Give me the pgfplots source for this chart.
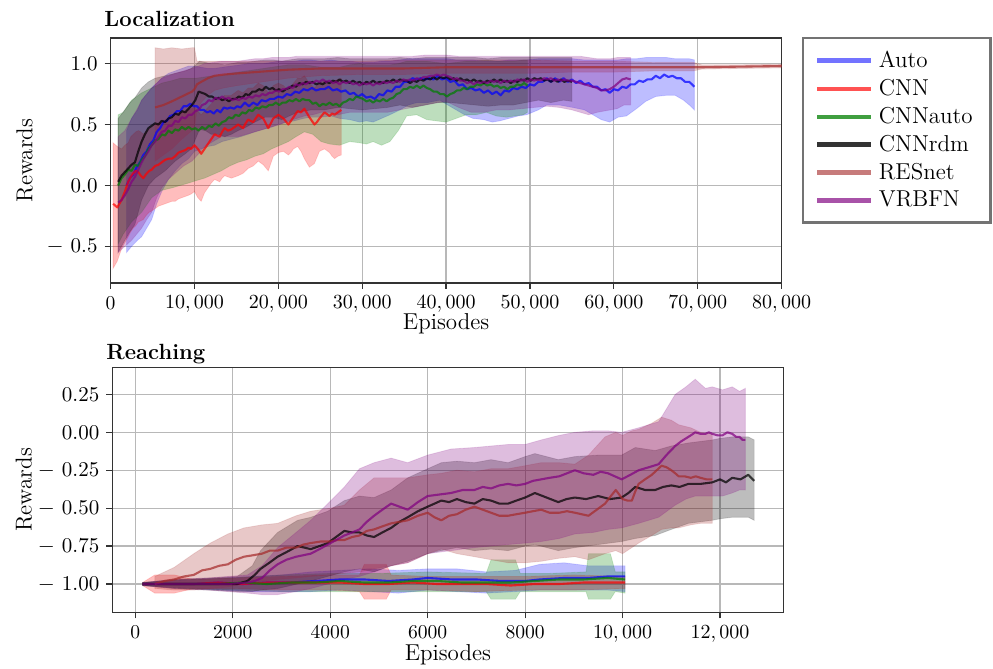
\documentclass[border=0pt]{standalone}
\usepackage{pgfplots}
\usepackage{pgfplotstable}
\pgfplotsset{compat=1.18}
\usepgfplotslibrary{fillbetween}

\definecolor{cAuto}{rgb}{0,0,1}
\definecolor{cCNN}{rgb}{1,0,0}
\definecolor{cCNNauto}{rgb}{0,0.5,0}
\definecolor{cCNNrdm}{rgb}{0,0,0}
\definecolor{cRES}{rgb}{0.647,0.165,0.165}
\definecolor{cVRB}{rgb}{0.5,0,0.5}

% ================= Localization: bands (x lo hi) =================
\pgfplotstableread{
x lo hi
1900 -0.55 0.45
2500 -0.50 0.55
3200 -0.45 0.62
3700 -0.42 0.70
4300 -0.35 0.75
4900 -0.28 0.80
5500 -0.15 0.84
6100 -0.05 0.88
6900 0.05 0.92
7700 0.12 0.94
8500 0.18 0.96
9300 0.22 0.98
10000 0.28 0.98
10800 0.30 0.97
11600 0.32 0.96
12400 0.33 0.96
13300 0.36 0.97
14400 0.38 0.98
15500 0.40 0.99
16400 0.42 1.00
17200 0.44 1.00
18200 0.46 1.00
19200 0.48 1.01
20000 0.50 1.02
21000 0.52 1.02
21900 0.53 1.02
23000 0.55 1.03
23900 0.56 1.03
25000 0.56 1.02
26300 0.57 1.03
27300 0.55 1.02
28500 0.54 1.02
29700 0.52 1.01
30500 0.53 1.01
31300 0.52 1.01
32300 0.55 1.02
33300 0.58 1.02
34500 0.62 1.03
35500 0.66 1.04
36500 0.68 1.04
37800 0.68 1.04
39250 0.70 1.04
40200 0.66 1.04
41200 0.62 1.03
42200 0.58 1.03
43200 0.55 1.03
44500 0.54 1.02
45500 0.52 1.02
46400 0.53 1.02
47500 0.55 1.03
48600 0.57 1.03
49600 0.58 1.03
51000 0.62 1.04
52000 0.66 1.04
53500 0.66 1.04
55100 0.64 1.04
56500 0.62 1.03
57500 0.58 1.03
58500 0.54 1.03
59500 0.52 1.03
60500 0.56 1.03
61500 0.57 1.04
62700 0.63 1.04
63800 0.69 1.05
65000 0.73 1.05
66300 0.74 1.05
67300 0.74 1.04
68300 0.70 1.04
69000 0.66 1.04
69600 0.62 1.03
}\LAutoB

\pgfplotstableread{
x m lo hi
300 -0.15 -0.68 0.35
800 -0.18 -0.62 0.32
1300 -0.12 -0.52 0.30
1700 -0.05 -0.47 0.33
2100 0.03 -0.42 0.35
2400 0.07 -0.38 0.40
2700 0.10 -0.35 0.42
3000 0.12 -0.33 0.44
3300 0.11 -0.30 0.45
3600 0.08 -0.29 0.44
3900 0.06 -0.28 0.42
4200 0.09 -0.25 0.44
4600 0.12 -0.22 0.46
4900 0.13 -0.21 0.48
5300 0.16 -0.19 0.50
5700 0.17 -0.17 0.51
6100 0.19 -0.16 0.52
6500 0.21 -0.15 0.54
6900 0.22 -0.14 0.55
7300 0.22 -0.13 0.56
7700 0.24 -0.13 0.57
8100 0.27 -0.11 0.59
8500 0.28 -0.10 0.60
8900 0.29 -0.09 0.61
9300 0.31 -0.08 0.62
9600 0.30 -0.07 0.63
10000 0.33 -0.05 0.64
10400 0.30 -0.10 0.61
10800 0.26 -0.13 0.58
11200 0.30 -0.06 0.61
11600 0.34 -0.02 0.64
12000 0.38 0.02 0.67
12400 0.42 0.05 0.70
13000 0.40 0.03 0.70
13300 0.44 0.06 0.72
13600 0.47 0.08 0.74
14000 0.45 0.07 0.74
14400 0.46 0.06 0.74
14800 0.48 0.07 0.76
15200 0.50 0.08 0.78
15800 0.47 0.10 0.76
16100 0.51 0.12 0.78
16400 0.54 0.14 0.80
17000 0.52 0.16 0.80
17300 0.55 0.18 0.82
17600 0.58 0.20 0.84
18200 0.55 0.17 0.82
18800 0.47 0.12 0.76
19100 0.51 0.18 0.79
19400 0.55 0.24 0.82
20000 0.58 0.27 0.84
20600 0.55 0.28 0.82
21200 0.50 0.25 0.78
21500 0.53 0.27 0.81
21800 0.56 0.30 0.84
22300 0.61 0.32 0.88
22700 0.60 0.28 0.88
23100 0.63 0.22 0.90
23700 0.56 0.15 0.84
24300 0.50 0.18 0.80
24600 0.52 0.23 0.82
24900 0.55 0.28 0.84
25500 0.60 0.30 0.86
26100 0.57 0.27 0.84
26400 0.59 0.24 0.85
26700 0.58 0.22 0.86
27100 0.60 0.24 0.87
27500 0.62 0.25 0.88
}\LCNN

\pgfplotstableread{
x lo hi
900 -0.48 0.58
1500 -0.40 0.60
2500 -0.30 0.70
3700 -0.22 0.76
4900 -0.10 0.80
6100 -0.04 0.84
7300 -0.02 0.86
8300 0.00 0.88
9300 0.02 0.88
10200 0.04 0.88
11200 0.06 0.89
12200 0.09 0.90
13200 0.12 0.90
14200 0.16 0.92
15200 0.19 0.93
16200 0.21 0.94
17200 0.24 0.95
18200 0.26 0.96
19200 0.30 0.97
20200 0.33 0.98
21200 0.36 0.99
22100 0.40 0.99
23100 0.44 0.99
24100 0.42 0.98
25100 0.36 0.97
26100 0.34 0.97
27300 0.33 0.97
28500 0.36 0.99
29700 0.35 1.00
30500 0.34 0.99
31300 0.36 0.99
32300 0.33 0.99
33300 0.36 0.99
34300 0.45 1.00
35300 0.57 1.02
36500 0.58 1.02
37700 0.54 1.02
38800 0.53 1.01
40000 0.52 1.00
41200 0.55 1.01
42400 0.58 1.02
43600 0.58 1.02
44800 0.60 1.03
46000 0.57 1.02
47200 0.56 1.02
48200 0.57 1.02
49200 0.58 1.03
49700 0.60 1.03
}\LCNNautoB

\pgfplotstableread{
x lo hi
900 -0.55 0.55
1700 -0.45 0.62
2300 -0.38 0.68
2900 -0.32 0.72
3300 -0.22 0.76
3700 -0.12 0.80
4500 0.00 0.85
5300 0.06 0.88
6500 0.12 0.90
7700 0.20 0.92
8900 0.26 0.94
9600 0.30 0.96
10000 0.36 0.98
10600 0.46 1.02
11300 0.45 1.01
12000 0.42 1.00
12800 0.42 1.00
13600 0.40 0.99
14400 0.42 1.00
15200 0.45 1.01
16200 0.48 1.01
17200 0.52 1.02
18400 0.56 1.03
19400 0.56 1.03
20400 0.54 1.02
21300 0.57 1.03
22300 0.60 1.04
23900 0.62 1.04
25500 0.62 1.04
27100 0.64 1.05
28500 0.63 1.04
30000 0.62 1.04
31500 0.63 1.04
33000 0.64 1.04
34500 0.66 1.05
36000 0.64 1.04
37500 0.66 1.05
39000 0.68 1.05
40500 0.68 1.05
42000 0.67 1.05
43500 0.66 1.05
45000 0.65 1.04
46500 0.66 1.05
48000 0.66 1.05
49500 0.68 1.05
51000 0.70 1.05
52500 0.68 1.05
54000 0.70 1.05
55000 0.69 1.05
}\LCNNrdmB

\pgfplotstableread{
x m lo hi
5300 0.64 0.20 1.13
6300 0.66 0.25 1.12
7300 0.69 0.30 1.13
8500 0.73 0.38 1.12
9700 0.77 0.45 1.13
10000 0.79 0.48 1.13
10300 0.83 0.62 1.02
10800 0.85 0.68 1.02
11600 0.88 0.74 1.02
12400 0.90 0.78 1.02
13500 0.91 0.80 1.02
15200 0.92 0.82 1.02
17200 0.93 0.84 1.02
19200 0.94 0.86 1.02
21200 0.95 0.88 1.02
25000 0.96 0.90 1.02
30000 0.96 0.91 1.02
35000 0.96 0.91 1.03
40000 0.97 0.92 1.03
45000 0.97 0.92 1.03
50000 0.97 0.92 1.03
55000 0.97 0.93 1.02
60000 0.97 0.93 1.02
65000 0.97 0.94 1.01
69500 0.97 0.94 1.01
70500 0.97 0.955 0.99
75000 0.975 0.96 0.99
80000 0.98 0.965 0.995
}\LRES

\pgfplotstableread{
x lo hi
900 -0.55 0.40
1700 -0.50 0.45
2500 -0.45 0.55
3100 -0.40 0.62
3700 -0.35 0.70
4300 -0.28 0.75
4900 -0.22 0.80
5500 -0.10 0.84
6100 -0.02 0.88
6900 0.05 0.90
7700 0.10 0.92
8700 0.16 0.94
9700 0.20 0.96
10500 0.26 0.98
11200 0.32 1.00
12200 0.36 1.01
13200 0.40 1.02
14200 0.40 1.02
15200 0.40 1.02
16200 0.42 1.03
17200 0.44 1.04
18200 0.46 1.04
19200 0.48 1.05
20200 0.50 1.05
21200 0.53 1.05
22200 0.55 1.06
23100 0.57 1.06
24100 0.58 1.06
25100 0.60 1.06
26100 0.60 1.06
27100 0.58 1.06
28500 0.60 1.06
30000 0.60 1.06
31500 0.60 1.06
33000 0.60 1.06
34500 0.62 1.06
36000 0.64 1.06
37500 0.66 1.07
39000 0.68 1.07
40000 0.69 1.07
41500 0.64 1.06
43000 0.60 1.06
44500 0.60 1.06
46000 0.62 1.06
47500 0.62 1.06
49000 0.63 1.06
50500 0.64 1.06
52000 0.65 1.06
53500 0.64 1.06
55000 0.62 1.06
56000 0.60 1.06
57000 0.58 1.05
58000 0.60 1.04
58800 0.61 1.04
59600 0.62 1.04
60400 0.63 1.05
61200 0.66 1.05
62000 0.66 1.05
}\LVRBB

% ================= Localization: mean lines (x m) =================
\pgfplotstableread{
x m
1900 0.00
2300 0.06
2700 0.09
3100 0.15
3500 0.19
3900 0.25
4300 0.28
4700 0.34
5100 0.37
5500 0.44
5900 0.47
6300 0.52
6700 0.53
7100 0.57
7500 0.58
7900 0.61
8300 0.61
8700 0.65
9100 0.65
9500 0.67
9900 0.65
10300 0.65
10700 0.62
11100 0.62
11500 0.60
11900 0.61
12300 0.59
12700 0.62
13100 0.60
13500 0.64
13900 0.63
14300 0.64
14700 0.63
15100 0.65
15500 0.64
16000 0.68
16500 0.65
17000 0.68
17500 0.66
18000 0.70
18500 0.69
19000 0.71
19500 0.71
20000 0.73
20500 0.72
21000 0.75
21500 0.74
22000 0.77
22500 0.76
23000 0.79
23500 0.78
24000 0.80
24500 0.78
25000 0.79
25500 0.79
26000 0.81
26500 0.78
27000 0.79
27500 0.77
28000 0.78
28500 0.75
29000 0.76
29500 0.73
30000 0.75
30500 0.72
31000 0.73
31500 0.71
32000 0.75
32500 0.74
33000 0.78
33500 0.77
34000 0.81
34500 0.81
35000 0.85
35500 0.85
36000 0.88
36500 0.87
37000 0.88
37500 0.87
38000 0.88
38500 0.87
39000 0.90
39500 0.87
40000 0.88
40500 0.85
41000 0.86
41500 0.82
42000 0.83
42500 0.79
43000 0.80
43500 0.78
44000 0.79
44500 0.76
45000 0.78
45500 0.75
46000 0.77
46500 0.74
47000 0.78
47500 0.77
48000 0.80
48500 0.79
49000 0.81
49500 0.80
50000 0.83
50500 0.82
51000 0.85
51500 0.85
52000 0.88
52500 0.85
53000 0.88
53500 0.85
54000 0.88
54500 0.85
55000 0.87
55500 0.84
56000 0.86
56500 0.83
57000 0.84
57500 0.81
58000 0.81
58500 0.78
59000 0.79
59500 0.76
60000 0.79
60500 0.78
61000 0.81
61500 0.80
62000 0.83
62500 0.83
63000 0.86
63500 0.85
64000 0.87
64500 0.87
65000 0.90
65500 0.88
66000 0.91
66500 0.89
67000 0.90
67500 0.88
68000 0.88
68500 0.85
69000 0.85
69600 0.81
}\LAutoM

\pgfplotstableread{
x m
900 0.00
1300 0.06
1700 0.09
2100 0.13
2500 0.12
2900 0.17
3300 0.16
3700 0.21
4100 0.24
4500 0.30
4900 0.33
5300 0.37
5700 0.38
6100 0.42
6500 0.41
6900 0.45
7300 0.43
7700 0.46
8100 0.45
8500 0.48
8900 0.46
9300 0.48
9700 0.46
10100 0.47
10500 0.45
10900 0.48
11300 0.46
11700 0.49
12100 0.48
12500 0.51
12900 0.49
13300 0.52
13700 0.53
14100 0.56
14500 0.55
14900 0.58
15300 0.57
15700 0.60
16100 0.59
16500 0.62
16900 0.61
17300 0.64
17700 0.63
18100 0.65
18500 0.64
18900 0.66
19300 0.66
19700 0.68
20100 0.66
20500 0.68
20900 0.68
21300 0.70
21700 0.69
22100 0.71
22500 0.69
22900 0.71
23300 0.70
23700 0.70
24100 0.67
24500 0.68
24900 0.65
25300 0.67
25700 0.66
26100 0.68
26500 0.66
26900 0.67
27300 0.65
27700 0.68
28100 0.69
28500 0.71
28900 0.70
29300 0.73
29700 0.72
30100 0.71
30500 0.69
30900 0.70
31300 0.68
31700 0.70
32100 0.69
32500 0.71
32900 0.69
33300 0.71
33700 0.72
34100 0.75
34500 0.76
34900 0.79
35300 0.79
35700 0.81
36100 0.80
36500 0.82
36900 0.80
37300 0.82
37700 0.80
38100 0.79
38500 0.77
38900 0.77
39300 0.75
39700 0.75
40100 0.73
40500 0.75
40900 0.76
41300 0.78
41700 0.78
42100 0.80
42500 0.79
42900 0.81
43300 0.81
43700 0.83
44100 0.82
44500 0.84
44900 0.82
45300 0.83
45700 0.81
46100 0.82
46500 0.80
46900 0.81
47300 0.79
47700 0.81
48100 0.81
48500 0.83
48900 0.82
49300 0.84
49700 0.82
}\LCNNautoM

\pgfplotstableread{
x m
900 0.03
1300 0.08
1700 0.11
2100 0.14
2500 0.17
2900 0.19
3300 0.28
3700 0.36
4100 0.42
4500 0.47
4900 0.49
5300 0.51
5700 0.50
6100 0.53
6500 0.52
6900 0.55
7300 0.56
7700 0.59
8100 0.58
8500 0.61
8900 0.60
9300 0.63
9700 0.66
10100 0.70
10500 0.77
10900 0.76
11300 0.75
11700 0.73
12100 0.73
12500 0.71
12900 0.72
13300 0.70
13700 0.71
14100 0.69
14500 0.71
14900 0.71
15300 0.73
15700 0.72
16100 0.75
16500 0.74
16900 0.77
17300 0.77
17700 0.79
18100 0.78
18500 0.81
18900 0.79
19300 0.80
19700 0.78
20100 0.79
20500 0.77
20900 0.79
21300 0.80
21700 0.82
22100 0.81
22500 0.84
22900 0.83
23300 0.85
23700 0.84
24100 0.85
24500 0.83
24900 0.84
25300 0.83
25700 0.85
26100 0.84
26500 0.86
26900 0.85
27300 0.87
27700 0.85
28100 0.86
28500 0.84
28900 0.86
29300 0.84
29700 0.85
30100 0.83
30500 0.85
30900 0.84
31300 0.86
31700 0.84
32100 0.85
32500 0.84
32900 0.86
33300 0.85
33700 0.87
34100 0.85
34500 0.87
34900 0.86
35300 0.86
35700 0.84
36100 0.86
36500 0.85
36900 0.87
37300 0.86
37700 0.88
38100 0.87
38500 0.89
38900 0.87
39300 0.89
39700 0.88
40100 0.89
40500 0.87
40900 0.88
41300 0.86
41700 0.88
42100 0.86
42500 0.87
42900 0.85
43300 0.87
43700 0.85
44100 0.86
44500 0.84
44900 0.86
45300 0.85
45700 0.87
46100 0.85
46500 0.87
46900 0.85
47300 0.86
47700 0.84
48100 0.86
48500 0.85
48900 0.87
49300 0.86
49700 0.88
50100 0.86
50500 0.88
50900 0.87
51300 0.88
51700 0.86
52100 0.87
52500 0.85
52900 0.87
53300 0.85
53700 0.87
54100 0.85
54500 0.86
55000 0.85
}\LCNNrdmM

\pgfplotstableread{
x m
900 -0.14
1300 -0.12
1700 -0.08
2100 -0.03
2500 0.03
2900 0.07
3300 0.13
3700 0.19
4100 0.24
4500 0.28
4900 0.33
5300 0.36
5700 0.40
6100 0.44
6500 0.45
6900 0.49
7300 0.49
7700 0.53
8100 0.52
8500 0.56
8900 0.55
9300 0.58
9700 0.58
10100 0.61
10500 0.62
10900 0.66
11300 0.67
11700 0.70
12100 0.69
12500 0.72
12900 0.71
13300 0.73
13700 0.71
14100 0.72
14500 0.70
14900 0.71
15300 0.70
15700 0.72
16100 0.71
16500 0.73
16900 0.72
17300 0.74
17700 0.73
18100 0.75
18500 0.74
18900 0.76
19300 0.76
19700 0.78
20100 0.77
20500 0.79
20900 0.79
21300 0.81
21700 0.80
22100 0.83
22500 0.82
22900 0.84
23300 0.83
23700 0.85
24100 0.84
24500 0.86
24900 0.85
25300 0.87
25700 0.85
26100 0.86
26500 0.84
26900 0.85
27300 0.83
27700 0.85
28100 0.84
28500 0.85
28900 0.83
29300 0.84
29700 0.82
30100 0.84
30500 0.83
30900 0.84
31300 0.82
31700 0.84
32100 0.83
32500 0.85
32900 0.84
33300 0.85
33700 0.84
34100 0.86
34500 0.85
34900 0.87
35300 0.86
35700 0.87
36100 0.86
36500 0.88
36900 0.87
37300 0.89
37700 0.89
38100 0.90
38500 0.90
38900 0.91
39300 0.90
39700 0.91
40100 0.90
40500 0.89
40900 0.87
41300 0.88
41700 0.86
42100 0.86
42500 0.84
42900 0.85
43300 0.83
43700 0.85
44100 0.84
44500 0.85
44900 0.84
45300 0.86
45700 0.85
46100 0.86
46500 0.84
46900 0.86
47300 0.85
47700 0.86
48100 0.85
48500 0.87
48900 0.86
49300 0.87
49700 0.85
50100 0.87
50500 0.86
50900 0.87
51300 0.86
51700 0.88
52100 0.87
52500 0.88
52900 0.86
53300 0.87
53700 0.86
54100 0.87
54500 0.86
55000 0.86
55500 0.85
56000 0.84
56500 0.83
57000 0.82
57500 0.81
58000 0.80
58500 0.78
59000 0.78
59500 0.79
60000 0.81
60500 0.84
61000 0.87
61500 0.88
62000 0.87
}\LVRBM

% ================= Reaching: bands =================
\pgfplotstableread{
x lo hi
150 -1.01 -0.99
600 -1.02 -0.98
1200 -1.03 -0.97
1800 -1.04 -0.96
2400 -1.05 -0.95
3000 -1.05 -0.94
3600 -1.05 -0.92
4200 -1.04 -0.91
4800 -1.05 -0.90
5400 -1.06 -0.91
6000 -1.04 -0.90
6600 -1.05 -0.90
7200 -1.06 -0.92
7800 -1.05 -0.91
8300 -1.04 -0.87
8800 -1.04 -0.86
9300 -1.04 -0.88
9700 -1.04 -0.88
10050 -1.05 -0.88
}\RAutoB

\pgfplotstableread{
x lo hi
150 -1.01 -0.99
400 -1.06 -0.94
800 -1.06 -0.94
1200 -1.03 -0.97
2000 -1.03 -0.96
3000 -1.04 -0.95
4000 -1.04 -0.94
4600 -1.05 -0.94
4700 -1.10 -0.87
5150 -1.10 -0.87
5250 -1.04 -0.94
6000 -1.04 -0.95
7000 -1.05 -0.95
8000 -1.04 -0.95
9000 -1.04 -0.94
10050 -1.03 -0.95
}\RCNNB

\pgfplotstableread{
x lo hi
150 -1.01 -0.99
1000 -1.03 -0.97
2000 -1.04 -0.96
3000 -1.05 -0.94
4000 -1.05 -0.93
5000 -1.05 -0.93
6000 -1.05 -0.92
7200 -1.05 -0.93
7300 -1.10 -0.84
7800 -1.10 -0.84
7900 -1.05 -0.93
8500 -1.05 -0.93
9250 -1.05 -0.92
9300 -1.10 -0.80
9750 -1.10 -0.80
9850 -1.05 -0.92
10050 -1.06 -0.92
}\RCNNautoB

\pgfplotstableread{
x lo hi
150 -1.01 -0.99
800 -1.03 -0.97
1500 -1.04 -0.96
2090 -1.05 -0.95
2400 -1.05 -0.88
2570 -1.04 -0.78
2920 -1.03 -0.66
3330 -1.00 -0.58
3600 -0.98 -0.56
3950 -0.95 -0.52
4290 -0.92 -0.45
4600 -0.90 -0.42
4900 -0.92 -0.43
5250 -0.88 -0.38
5590 -0.85 -0.30
6000 -0.80 -0.24
6280 -0.78 -0.20
6600 -0.76 -0.19
6960 -0.78 -0.20
7300 -0.77 -0.18
7650 -0.78 -0.20
8000 -0.75 -0.16
8200 -0.74 -0.14
8680 -0.78 -0.18
9020 -0.76 -0.16
9500 -0.74 -0.15
9980 -0.72 -0.15
10260 -0.70 -0.10
10670 -0.68 -0.12
11000 -0.64 -0.09
11350 -0.60 -0.07
11840 -0.58 -0.05
12000 -0.57 -0.04
12250 -0.56 -0.03
12580 -0.56 -0.03
12700 -0.58 -0.05
}\RCNNrdmB

\pgfplotstableread{
x lo hi
400 -1.03 -0.95
800 -1.04 -0.89
1200 -1.04 -0.80
1540 -1.03 -0.73
1900 -1.02 -0.67
2230 -1.00 -0.63
2600 -0.98 -0.61
2920 -0.97 -0.60
3300 -0.96 -0.55
3600 -0.95 -0.52
4000 -0.94 -0.50
4290 -0.93 -0.48
4600 -0.92 -0.38
4900 -0.90 -0.30
5250 -0.88 -0.30
5590 -0.86 -0.30
6000 -0.80 -0.28
6280 -0.77 -0.27
6600 -0.80 -0.25
6960 -0.82 -0.26
7300 -0.84 -0.24
7650 -0.86 -0.24
8000 -0.86 -0.22
8330 -0.85 -0.20
8700 -0.83 -0.20
9020 -0.82 -0.21
9300 -0.84 -0.15
9640 -0.80 -0.03
9860 -0.78 0.00
10000 -0.80 -0.02
10190 -0.76 0.01
10330 -0.73 0.02
10600 -0.68 0.06
10800 -0.64 0.10
11000 -0.63 0.08
11150 -0.63 0.05
11400 -0.61 0.03
11600 -0.60 0.00
11840 -0.60 -0.01
}\RRESB

\pgfplotstableread{
x lo hi
150 -1.01 -0.99
800 -1.03 -0.97
1500 -1.04 -0.96
2300 -1.06 -0.94
2600 -1.07 -0.88
2920 -1.07 -0.76
3300 -1.05 -0.66
3600 -1.03 -0.58
3950 -1.00 -0.47
4290 -0.97 -0.36
4600 -0.95 -0.24
4900 -0.92 -0.20
5250 -0.88 -0.17
5590 -0.86 -0.20
6000 -0.80 -0.15
6480 -0.78 -0.11
6960 -0.76 -0.10
7300 -0.75 -0.09
7650 -0.74 -0.08
8000 -0.73 -0.08
8330 -0.72 -0.05
8700 -0.70 -0.02
9020 -0.67 0.00
9400 -0.66 0.01
9700 -0.64 0.01
9980 -0.63 0.00
10330 -0.60 0.03
10740 -0.56 0.07
11080 -0.48 0.25
11300 -0.44 0.30
11490 -0.42 0.35
11700 -0.42 0.29
11840 -0.42 0.30
12050 -0.42 0.28
12250 -0.40 0.30
12400 -0.38 0.27
12520 -0.38 0.29
}\RVRBB

% ================= Reaching: mean lines =================
\pgfplotstableread{
x m
150 -1.00
700 -1.00
1200 -1.00
1700 -0.99
2200 -1.00
2700 -0.99
3200 -0.99
3700 -0.98
4200 -0.97
4700 -0.97
5200 -0.98
5700 -0.97
6000 -0.96
6500 -0.97
7000 -0.97
7500 -0.98
8000 -0.98
8300 -0.97
8800 -0.96
9300 -0.96
9700 -0.95
10050 -0.95
}\RAutoM

\pgfplotstableread{
x m
150 -1.00
700 -1.00
1200 -1.00
1700 -0.99
2200 -1.00
2700 -0.99
3200 -0.99
3700 -0.99
4200 -0.99
4700 -1.00
5200 -1.00
5700 -0.99
6200 -1.00
6700 -1.00
7200 -1.00
7700 -1.01
8200 -1.00
8700 -1.00
9200 -0.99
9700 -0.99
10050 -0.99
}\RCNNM

\pgfplotstableread{
x m
150 -1.00
700 -1.00
1200 -1.00
1700 -1.00
2200 -0.99
2700 -1.00
3200 -0.99
3700 -0.99
4200 -0.98
4700 -0.99
5200 -0.99
5700 -0.98
6200 -0.98
6700 -0.99
7200 -0.99
7700 -0.99
8200 -0.98
8700 -0.97
9200 -0.97
9700 -0.96
10050 -0.97
}\RCNNautoM

\pgfplotstableread{
x m
150 -1.00
600 -1.00
1100 -1.00
1600 -1.00
2090 -1.00
2300 -0.98
2450 -0.94
2570 -0.90
2750 -0.86
2920 -0.82
3100 -0.79
3330 -0.75
3470 -0.76
3600 -0.77
3780 -0.75
3950 -0.73
4120 -0.69
4290 -0.65
4450 -0.66
4600 -0.66
4750 -0.68
4900 -0.69
5070 -0.66
5250 -0.63
5420 -0.59
5590 -0.56
5800 -0.52
6000 -0.49
6140 -0.47
6280 -0.45
6440 -0.46
6600 -0.44
6780 -0.46
6960 -0.47
7130 -0.44
7300 -0.45
7470 -0.47
7650 -0.47
7820 -0.45
8000 -0.43
8200 -0.40
8440 -0.43
8680 -0.46
8850 -0.44
9020 -0.43
9250 -0.44
9500 -0.42
9740 -0.44
9980 -0.43
10120 -0.40
10260 -0.36
10460 -0.38
10670 -0.38
10830 -0.36
11000 -0.35
11170 -0.36
11350 -0.34
11600 -0.34
11840 -0.33
12000 -0.31
12120 -0.33
12250 -0.30
12420 -0.31
12580 -0.28
12700 -0.32
}\RCNNrdmM

\pgfplotstableread{
x m
400 -1.00
600 -0.98
800 -0.97
1000 -0.95
1200 -0.94
1370 -0.91
1540 -0.90
1720 -0.88
1900 -0.87
2060 -0.84
2230 -0.82
2420 -0.81
2600 -0.80
2760 -0.78
2920 -0.78
3100 -0.76
3300 -0.76
3450 -0.74
3600 -0.73
3800 -0.72
4000 -0.72
4150 -0.71
4290 -0.71
4450 -0.69
4600 -0.68
4750 -0.65
4900 -0.64
5070 -0.62
5250 -0.60
5420 -0.59
5590 -0.58
5800 -0.55
6000 -0.53
6140 -0.56
6280 -0.58
6440 -0.55
6600 -0.54
6780 -0.51
6960 -0.49
7130 -0.51
7300 -0.53
7470 -0.55
7650 -0.55
7820 -0.54
8000 -0.53
8160 -0.52
8330 -0.51
8500 -0.53
8700 -0.53
8860 -0.52
9020 -0.53
9160 -0.54
9300 -0.55
9470 -0.51
9640 -0.47
9760 -0.42
9860 -0.38
9930 -0.41
10000 -0.44
10100 -0.45
10190 -0.45
10260 -0.39
10330 -0.34
10460 -0.31
10600 -0.28
10700 -0.25
10800 -0.22
10900 -0.23
11000 -0.25
11080 -0.27
11150 -0.29
11270 -0.29
11400 -0.30
11500 -0.29
11600 -0.30
11720 -0.31
11840 -0.31
}\RRESM

\pgfplotstableread{
x m
150 -1.00
700 -1.00
1300 -1.00
1900 -1.00
2300 -0.99
2450 -0.98
2600 -0.96
2760 -0.91
2920 -0.87
3100 -0.84
3300 -0.82
3450 -0.81
3600 -0.80
3780 -0.77
3950 -0.74
4120 -0.71
4290 -0.68
4450 -0.66
4600 -0.64
4750 -0.59
4900 -0.55
5070 -0.51
5250 -0.47
5420 -0.49
5590 -0.51
5800 -0.46
6000 -0.42
6240 -0.41
6480 -0.40
6720 -0.38
6960 -0.38
7130 -0.36
7300 -0.37
7470 -0.35
7650 -0.34
7820 -0.35
8000 -0.34
8160 -0.32
8330 -0.31
8500 -0.30
8700 -0.29
8860 -0.27
9020 -0.25
9200 -0.27
9400 -0.28
9550 -0.26
9700 -0.27
9840 -0.29
9980 -0.31
10160 -0.28
10330 -0.25
10540 -0.23
10740 -0.21
10900 -0.15
11080 -0.09
11200 -0.06
11300 -0.04
11400 -0.02
11490 0.00
11600 -0.01
11700 -0.01
11770 0.00
11840 -0.01
11950 -0.02
12050 -0.02
12150 0.00
12250 -0.01
12330 -0.03
12400 -0.03
12460 -0.05
12520 -0.05
}\RVRBM

% #1 band table, #2 line table, #3 colour, #4 name
\newcommand{\series}[4]{%
  \addplot[draw=none, name path=#4hi, forget plot] table[x=x,y=hi]{#1};
  \addplot[draw=none, name path=#4lo, forget plot] table[x=x,y=lo]{#1};
  \addplot[fill=#3, fill opacity=0.26, draw=#3, draw opacity=0.14, forget plot] fill between[of=#4hi and #4lo];
  \addplot[#3, draw opacity=0.72, line width=1.05pt, line join=round, forget plot] table[x=x,y=m]{#2};
}

\pgfplotsset{
  myax/.style={
    scale only axis,
    width=335.5pt, height=122.5pt,
    anchor=south west,
    scaled x ticks=false, scaled y ticks=false,
    grid=major,
    grid style={black!28, line width=0.6pt},
    axis line style={black!80, line width=0.7pt},
    tick style={black!80, line width=0.6pt},
    tick align=outside,
    major tick length=3pt,
    xtick pos=left, ytick pos=left,
    xticklabel style={font=\fontsize{9.8}{11}\selectfont},
    yticklabel style={font=\fontsize{10.5}{12}\selectfont},
    xlabel style={font=\fontsize{11.5}{13}\selectfont, at={(axis description cs:0.5,0)}, anchor=north, inner sep=0pt},
    ylabel style={font=\fontsize{11.5}{13}\selectfont, anchor=center, inner sep=0pt},
    title style={font=\bfseries\fontsize{11}{13}\selectfont, at={(axis description cs:0,1)}, anchor=base west, inner sep=0pt},
    clip=true,
  }
}

\begin{document}
\begin{tikzpicture}

\begin{axis}[myax,
  at={(55.3pt,193pt)},
  xmin=0, xmax=80000, ymin=-0.8, ymax=1.21,
  xtick={0,10000,20000,30000,40000,50000,60000,70000,80000},
  xticklabels={0,{$10,000$},{$20,000$},{$30,000$},{$40,000$},{$50,000$},{$60,000$},{$70,000$},{$80,000$}},
  ytick={-0.5,0,0.5,1},
  yticklabels={{$-$ 0.5},0.0,0.5,1.0},
  xlabel={Episodes}, xlabel style={yshift=-15pt},
  ylabel={Rewards}, ylabel style={at={(axis description cs:-0.128,0.5)}},
  title={Localization}, title style={xshift=-3.3pt, yshift=-0.5pt},
  legend image code/.code={\draw[#1, line width=2.2pt] (0pt,0pt) -- (27pt,0pt);},
  legend cell align=left,
  legend style={at={(1,1)}, anchor=north west, xshift=10pt, yshift=0.7pt,
    draw=black!55, line width=1.3pt, fill=white,
    font=\fontsize{11.5}{13}\selectfont,
    inner xsep=6pt, inner ysep=5pt,
    row sep=1.4pt,
    nodes={inner xsep=2.8pt, inner ysep=1.5pt}},
]
\series{\LAutoB}{\LAutoM}{cAuto}{la}
\series{\LCNN}{\LCNN}{cCNN}{lb}
\series{\LCNNautoB}{\LCNNautoM}{cCNNauto}{lc}
\series{\LCNNrdmB}{\LCNNrdmM}{cCNNrdm}{ld}
\series{\LRES}{\LRES}{cRES}{le}
\series{\LVRBB}{\LVRBM}{cVRB}{lf}
\addlegendimage{cAuto, draw opacity=0.55}
\addlegendentry{Auto}
\addlegendimage{cCNN, draw opacity=0.68}
\addlegendentry{CNN}
\addlegendimage{cCNNauto, draw opacity=0.75}
\addlegendentry{CNNauto}
\addlegendimage{cCNNrdm, draw opacity=0.8}
\addlegendentry{CNNrdm}
\addlegendimage{cRES, draw opacity=0.62}
\addlegendentry{RESnet}
\addlegendimage{cVRB, draw opacity=0.68}
\addlegendentry{VRBFN}
\end{axis}

\begin{axis}[myax,
  at={(56.2pt,28.3pt)},
  xmin=-470, xmax=13300, ymin=-1.187, ymax=0.428,
  xtick={0,2000,4000,6000,8000,10000,12000},
  xticklabels={0,2000,4000,6000,8000,{$10,000$},{$12,000$}},
  ytick={-1,-0.75,-0.5,-0.25,0,0.25},
  yticklabels={{$-$ 1.00},{$-$ 0.75},{$-$ 0.50},{$-$ 0.25},0.00,0.25},
  xlabel={Episodes}, xlabel style={yshift=-16pt},
  ylabel={Rewards}, ylabel style={at={(axis description cs:-0.132,0.5)}},
  title={Reaching}, title style={xshift=-3.2pt, yshift=-1.9pt},
]
\series{\RAutoB}{\RAutoM}{cAuto}{ra}
\series{\RCNNB}{\RCNNM}{cCNN}{rb}
\series{\RCNNautoB}{\RCNNautoM}{cCNNauto}{rc}
\series{\RCNNrdmB}{\RCNNrdmM}{cCNNrdm}{rd}
\series{\RRESB}{\RRESM}{cRES}{re}
\series{\RVRBB}{\RVRBM}{cVRB}{rf}
\end{axis}

\path (0,0) rectangle (496.5pt,334.5pt);
\end{tikzpicture}
\end{document}
